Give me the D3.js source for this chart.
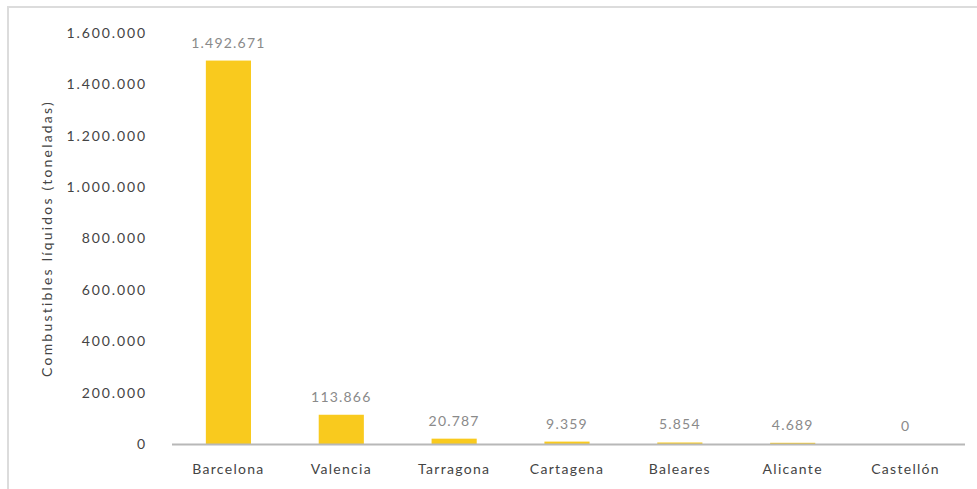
<!DOCTYPE html>
<html>
<head>
<meta charset="utf-8">
<script src="https://cdn.jsdelivr.net/npm/d3@7"></script>
<style>
  html, body { margin: 0; padding: 0; background: #fff; }
  svg { display: block; }
  text { font-family: Lato, "Open Sans", sans-serif; }
</style>
</head>
<body>
<svg id="chart" width="977" height="489"></svg>
<script>
const categories = ["Barcelona", "Valencia", "Tarragona", "Cartagena", "Baleares", "Alicante", "Castellón"];
const values = [1492671, 113866, 20787, 9359, 5854, 4689, 0];
const tickValues = [0, 200000, 400000, 600000, 800000, 1000000, 1200000, 1400000, 1600000];
const yTitle = "Combustibles líquidos (toneladas)";

(function () {
const fmt = d3.formatLocale({ decimal: ",", thousands: ".", grouping: [3], currency: ["", "€"] }).format(",d");

const svg = d3.select("#chart");
const W = 977, H = 489;
const mLeft = 172, mRight = 962, mTop = 33, mBottom = 444;

// outer frame
svg.append("rect")
  .attr("x", 8).attr("y", 7)
  .attr("width", W).attr("height", H)
  .attr("fill", "none").attr("stroke", "#dcdcdc").attr("stroke-width", 2);

const x = d3.scaleBand().domain(categories).range([mLeft, mRight]).paddingInner(0.6).paddingOuter(0.3);
const y = d3.scaleLinear().domain([0, 1600000]).range([mBottom, mTop]);

// bars
svg.append("g").selectAll("rect").data(categories).join("rect")
  .attr("x", d => x(d))
  .attr("y", (d, i) => y(values[i]))
  .attr("width", x.bandwidth())
  .attr("height", (d, i) => y(0) - y(values[i]))
  .attr("fill", "#f9ca1e");

// value labels
svg.append("g").selectAll("text").data(categories).join("text")
  .attr("x", d => x(d) + x.bandwidth() / 2)
  .attr("y", (d, i) => y(values[i]) - 13)
  .attr("text-anchor", "middle")
  .attr("font-size", 14)
  .attr("letter-spacing", 1.2)
  .attr("fill", "#8a8a8a")
  .text((d, i) => fmt(values[i]));

// y axis
const yAxis = d3.axisLeft(y).tickValues(tickValues).tickFormat(fmt).tickSize(0).tickPadding(0);
const gy = svg.append("g").attr("transform", `translate(147,0)`).call(yAxis);
gy.select(".domain").remove();
gy.selectAll("text")
  .attr("font-family", "Lato, 'Open Sans', sans-serif")
  .attr("font-size", 14)
  .attr("letter-spacing", 1.9)
  .attr("fill", "#444");

// x axis
const xAxis = d3.axisBottom(x).tickSize(0).tickPadding(20);
const gx = svg.append("g").attr("transform", `translate(0,${mBottom})`).call(xAxis);
gx.select(".domain").remove();
gx.selectAll("text")
  .attr("font-family", "Lato, 'Open Sans', sans-serif")
  .attr("font-size", 14)
  .attr("letter-spacing", 1.3)
  .attr("fill", "#444");

svg.append("line")
  .attr("x1", mLeft).attr("x2", mRight + 3)
  .attr("y1", mBottom + 0.5).attr("y2", mBottom + 0.5)
  .attr("stroke", "#b8b8b8").attr("stroke-width", 2);

// y title
svg.append("text")
  .attr("transform", `translate(52,${(mTop + mBottom) / 2}) rotate(-90)`)
  .attr("text-anchor", "middle")
  .attr("font-size", 14)
  .attr("letter-spacing", 2.2)
  .attr("fill", "#444")
  .text(yTitle);
})();
</script>
</body>
</html>
